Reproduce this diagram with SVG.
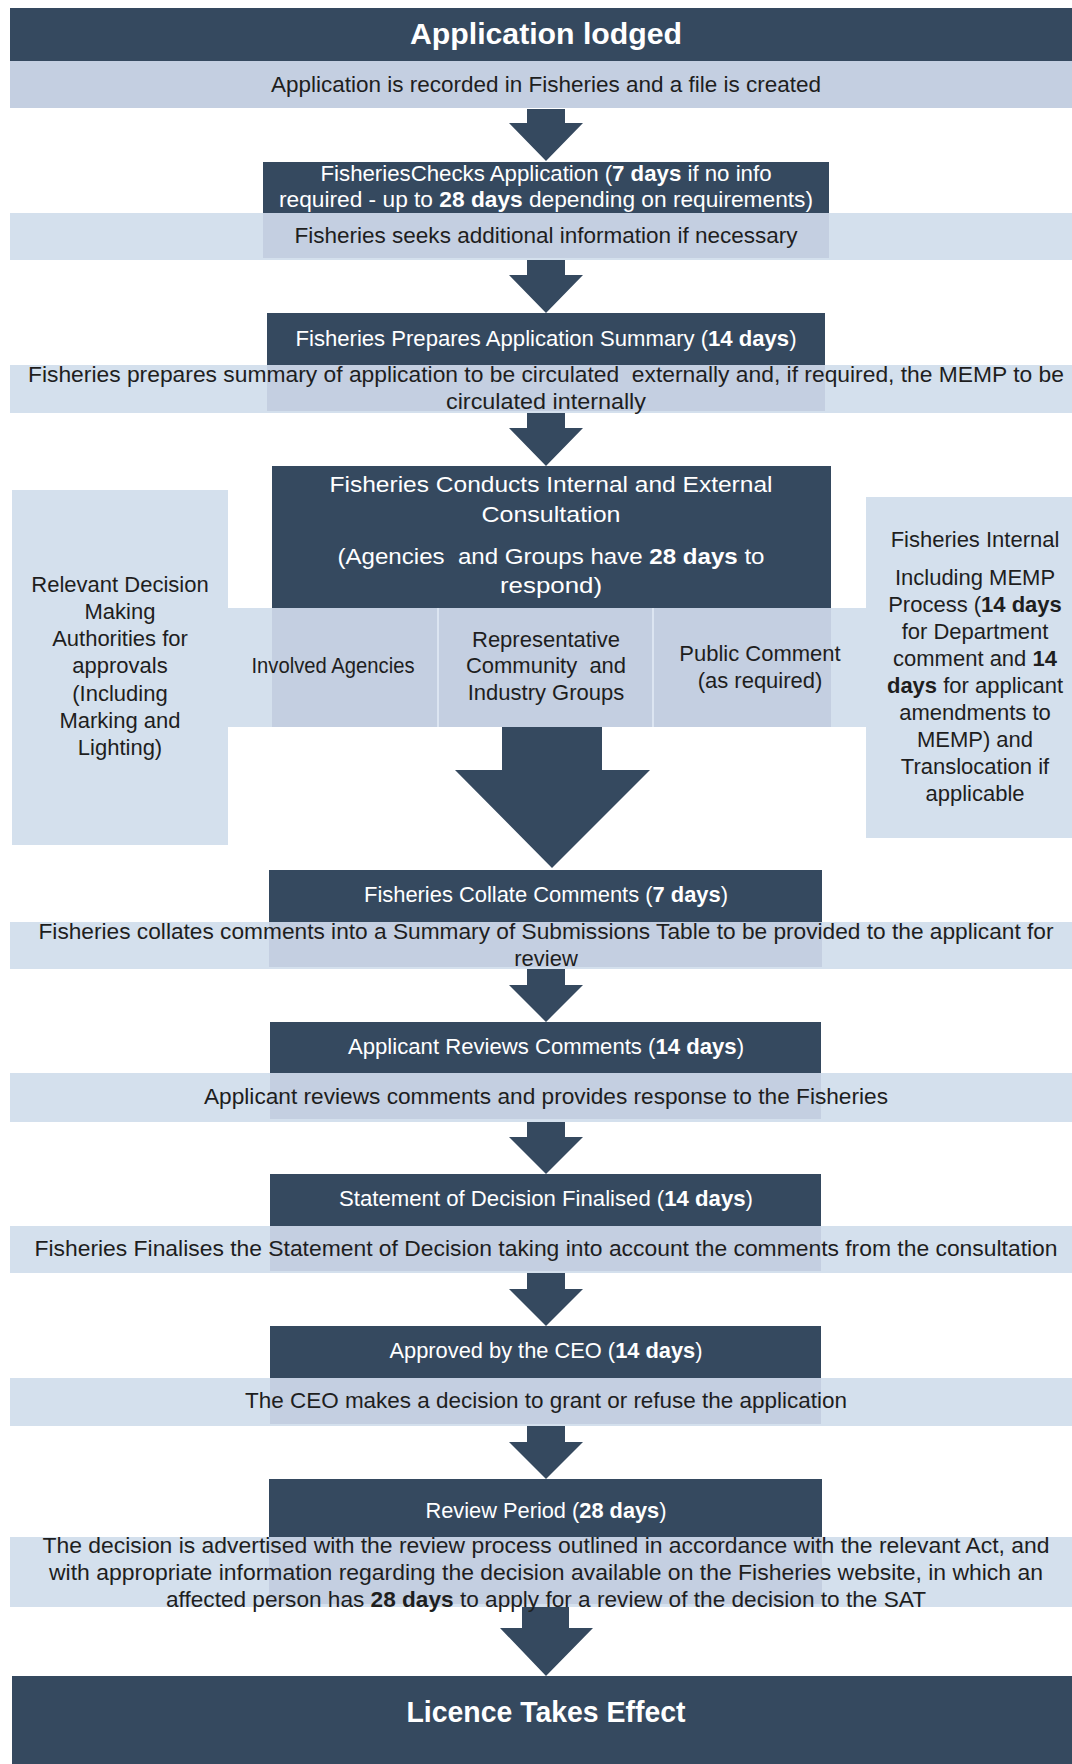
<svg xmlns="http://www.w3.org/2000/svg" width="1072" height="1764" viewBox="0 0 1072 1764">
<style>
.dark{fill:#35495F}
.band{fill:#D4E0ED}
.over{fill:#C4CFE1}
.sep{stroke:#DCE5F1;stroke-width:2}
.arrow{fill:#35495F}
.t{font-family:'Liberation Sans',Arial,sans-serif;font-size:22px;fill:#1E1E1E;text-anchor:middle}
.w{fill:#FFFFFF}
.b{font-weight:bold}
.h{font-size:30px;font-weight:bold;fill:#FFFFFF}
</style>
<rect width="1072" height="1764" fill="#FFFFFF"/>
<g id="connectors">
<polygon class="arrow" points="527,109 565,109 565,123 583,123 546,161 509,123 527,123"/>
<polygon class="arrow" points="527,260 565,260 565,275 583,275 546,313 509,275 527,275"/>
<polygon class="arrow" points="527,413 565,413 565,428 583,428 546,466 509,428 527,428"/>
<polygon class="arrow" points="502,727 602,727 602,770 650,770 552,868 455,770 502,770"/>
<polygon class="arrow" points="527,969 565,969 565,985 583,985 546,1022 509,985 527,985"/>
<polygon class="arrow" points="527,1122 565,1122 565,1137 583,1137 546,1174 509,1137 527,1137"/>
<polygon class="arrow" points="527,1273 565,1273 565,1289 583,1289 546,1326 509,1289 527,1289"/>
<polygon class="arrow" points="527,1426 565,1426 565,1442 583,1442 546,1479 509,1442 527,1442"/>
<polygon class="arrow" points="522,1607 569,1607 569,1628 593,1628 546,1676 500,1628 522,1628"/>
</g>
<g id="node-lodged">
<rect class="dark" x="10" y="8" width="1062" height="53"/>
<rect class="over" x="10" y="61" width="1062" height="47"/>
<text class="t h" x="546" y="44" textLength="272" lengthAdjust="spacingAndGlyphs">Application lodged</text>
<text class="t" x="546" y="92" textLength="550" lengthAdjust="spacingAndGlyphs">Application is recorded in Fisheries and a file is created</text>
</g>
<g id="node-checks">
<rect class="band" x="10" y="213" width="1062" height="47"/>
<rect class="dark" x="263" y="162" width="566" height="51"/>
<rect class="over" x="263" y="213" width="566" height="45"/>
<text class="t w" x="546" y="181" textLength="451" lengthAdjust="spacingAndGlyphs">FisheriesChecks Application (<tspan class="b">7 days</tspan> if no info</text>
<text class="t w" x="546" y="207" textLength="534" lengthAdjust="spacingAndGlyphs">required - up to <tspan class="b">28 days</tspan> depending on requirements)</text>
<text class="t" x="546" y="243" textLength="503" lengthAdjust="spacingAndGlyphs">Fisheries seeks additional information if necessary</text>
</g>
<g id="node-summary">
<rect class="band" x="10" y="365" width="1062" height="48"/>
<rect class="dark" x="267" y="313" width="558" height="52"/>
<rect class="over" x="267" y="365" width="558" height="46"/>
<text class="t w" x="546" y="346" textLength="501" lengthAdjust="spacingAndGlyphs">Fisheries Prepares Application Summary (<tspan class="b">14 days</tspan>)</text>
<text class="t" x="546" y="382" textLength="1036" lengthAdjust="spacingAndGlyphs" xml:space="preserve">Fisheries prepares summary of application to be circulated  externally and, if required, the MEMP to be</text>
<text class="t" x="546" y="409" textLength="200" lengthAdjust="spacingAndGlyphs">circulated internally</text>
</g>
<g id="node-decision-authorities">
<rect class="band" x="12" y="490" width="216" height="355"/>
<text class="t" x="120" y="592">Relevant Decision</text>
<text class="t" x="120" y="619">Making</text>
<text class="t" x="120" y="646">Authorities for</text>
<text class="t" x="120" y="673">approvals</text>
<text class="t" x="120" y="701">(Including</text>
<text class="t" x="120" y="728">Marking and</text>
<text class="t" x="120" y="755">Lighting)</text>
</g>
<g id="node-internal">
<rect class="band" x="866" y="497" width="206" height="341"/>
<text class="t" x="975" y="547">Fisheries Internal</text>
<text class="t" x="975" y="585">Including MEMP</text>
<text class="t" x="975" y="612">Process (<tspan class="b">14 days</tspan></text>
<text class="t" x="975" y="639">for Department</text>
<text class="t" x="975" y="666">comment and <tspan class="b">14</tspan></text>
<text class="t" x="975" y="693"><tspan class="b">days</tspan> for applicant</text>
<text class="t" x="975" y="720">amendments to</text>
<text class="t" x="975" y="747">MEMP) and</text>
<text class="t" x="975" y="774">Translocation if</text>
<text class="t" x="975" y="801">applicable</text>
</g>
<g id="node-consultation">
<rect class="band" x="228" y="608" width="638" height="119"/>
<rect class="dark" x="272" y="466" width="559" height="142"/>
<rect class="over" x="272" y="608" width="559" height="119"/>
<line class="sep" x1="438" y1="608" x2="438" y2="727"/>
<line class="sep" x1="653" y1="608" x2="653" y2="727"/>
<text class="t w" x="551" y="492" textLength="443" lengthAdjust="spacingAndGlyphs">Fisheries Conducts Internal and External</text>
<text class="t w" x="551" y="522" textLength="139" lengthAdjust="spacingAndGlyphs">Consultation</text>
<text class="t w" x="551" y="564" textLength="427" lengthAdjust="spacingAndGlyphs" xml:space="preserve">(Agencies  and Groups have <tspan class="b">28 days</tspan> to</text>
<text class="t w" x="551" y="593" textLength="102" lengthAdjust="spacingAndGlyphs">respond)</text>
</g>
<g id="node-agencies">
<text class="t" x="333" y="673" textLength="163" lengthAdjust="spacingAndGlyphs">Involved Agencies</text>
</g>
<g id="node-groups">
<text class="t" x="546" y="647">Representative</text>
<text class="t" x="546" y="673" xml:space="preserve">Community  and</text>
<text class="t" x="546" y="700">Industry Groups</text>
</g>
<g id="node-public">
<text class="t" x="760" y="661">Public Comment</text>
<text class="t" x="760" y="688">(as required)</text>
</g>
<g id="node-collate">
<rect class="band" x="10" y="922" width="1062" height="47"/>
<rect class="dark" x="269" y="870" width="553" height="52"/>
<rect class="over" x="269" y="922" width="553" height="45"/>
<text class="t w" x="546" y="902" textLength="364" lengthAdjust="spacingAndGlyphs">Fisheries Collate Comments (<tspan class="b">7 days</tspan>)</text>
<text class="t" x="546" y="939" textLength="1015" lengthAdjust="spacingAndGlyphs">Fisheries collates comments into a Summary of Submissions Table to be provided to the applicant for</text>
<text class="t" x="546" y="966">review</text>
</g>
<g id="node-applicant">
<rect class="band" x="10" y="1073" width="1062" height="49"/>
<rect class="dark" x="270" y="1022" width="551" height="51"/>
<rect class="over" x="270" y="1073" width="551" height="46"/>
<text class="t w" x="546" y="1054" textLength="396" lengthAdjust="spacingAndGlyphs">Applicant Reviews Comments (<tspan class="b">14 days</tspan>)</text>
<text class="t" x="546" y="1104" textLength="684" lengthAdjust="spacingAndGlyphs">Applicant reviews comments and provides response to the Fisheries</text>
</g>
<g id="node-statement">
<rect class="band" x="10" y="1226" width="1062" height="47"/>
<rect class="dark" x="270" y="1174" width="551" height="52"/>
<rect class="over" x="270" y="1226" width="551" height="45"/>
<text class="t w" x="546" y="1206" textLength="414" lengthAdjust="spacingAndGlyphs">Statement of Decision Finalised (<tspan class="b">14 days</tspan>)</text>
<text class="t" x="546" y="1256" textLength="1023" lengthAdjust="spacingAndGlyphs">Fisheries Finalises the Statement of Decision taking into account the comments from the consultation</text>
</g>
<g id="node-ceo">
<rect class="band" x="10" y="1378" width="1062" height="48"/>
<rect class="dark" x="270" y="1326" width="551" height="52"/>
<rect class="over" x="270" y="1378" width="551" height="46"/>
<text class="t w" x="546" y="1358" textLength="313" lengthAdjust="spacingAndGlyphs">Approved by the CEO (<tspan class="b">14 days</tspan>)</text>
<text class="t" x="546" y="1408" textLength="602" lengthAdjust="spacingAndGlyphs">The CEO makes a decision to grant or refuse the application</text>
</g>
<g id="node-review">
<rect class="band" x="10" y="1537" width="1062" height="70"/>
<rect class="dark" x="269" y="1479" width="553" height="58"/>
<rect class="over" x="269" y="1537" width="553" height="67"/>
<text class="t w" x="546" y="1518" textLength="241" lengthAdjust="spacingAndGlyphs">Review Period (<tspan class="b">28 days</tspan>)</text>
<text class="t" x="546" y="1553" textLength="1007" lengthAdjust="spacingAndGlyphs">The decision is advertised with the review process outlined in accordance with the relevant Act, and</text>
<text class="t" x="546" y="1580" textLength="994" lengthAdjust="spacingAndGlyphs">with appropriate information regarding the decision available on the Fisheries website, in which an</text>
<text class="t" x="546" y="1607" textLength="760" lengthAdjust="spacingAndGlyphs">affected person has <tspan class="b">28 days</tspan> to apply for a review of the decision to the SAT</text>
</g>
<g id="node-licence">
<rect class="dark" x="12" y="1676" width="1060" height="88"/>
<text class="t h" x="546" y="1722" textLength="279" lengthAdjust="spacingAndGlyphs">Licence Takes Effect</text>
</g>
</svg>
